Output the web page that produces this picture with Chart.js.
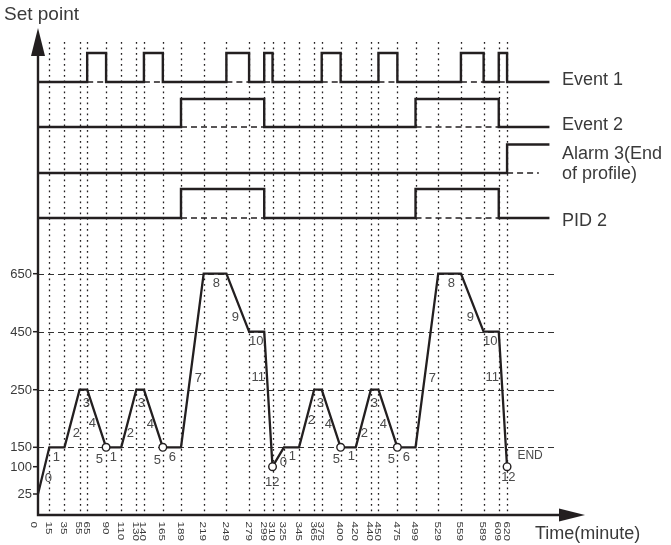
<!DOCTYPE html>
<html>
<head>
<meta charset="utf-8">
<script src="https://cdn.jsdelivr.net/npm/chart.js@4/dist/chart.umd.min.js"></script>
<style>
  html, body { margin: 0; padding: 0; background: #fff; }
  #wrap { width: 671px; height: 545px; position: relative; }
</style>
</head>
<body>
<div id="wrap"><canvas id="profileChart"></canvas></div>
<script>
// ── Data ─────────────────────────────────────────────────────
const xTicks = [0, 15, 35, 55, 65, 90, 110, 130, 140, 165, 189, 219, 249, 279, 299, 310,
  325, 345, 365, 375, 400, 420, 440, 450, 475, 499, 529, 559, 589, 609, 620];
const yTicks = [25, 100, 150, 250, 450, 650];
const dashedLevels = [150, 250, 450, 650];

const profileTime = [0, 15, 35, 55, 65, 90, 110, 130, 140, 165, 189, 219, 249, 279, 299, 310,
  325, 345, 365, 375, 400, 420, 440, 450, 475, 499, 529, 559, 589, 609, 620];
const profileValue = [25, 150, 150, 250, 250, 150, 150, 250, 250, 150, 150, 650, 650, 450, 450, 100,
  150, 150, 250, 250, 150, 150, 250, 250, 150, 150, 650, 650, 450, 450, 100];
const circleTimes = [90, 165, 310, 400, 475, 620];

const event1On = [[65, 90], [140, 165], [249, 279], [299, 310], [375, 400], [450, 475], [559, 589], [609, 620]];
const event2On = [[189, 299], [499, 609]];
const alarm3On = [[620, null]];
const pid2On = [[189, 299], [499, 609]];

const segText = ['0', '1', '2', '3', '4', '5', '1', '2', '3', '4', '5', '6', '7', '8', '9', '10', '11', '12',
  '0', '1', '2', '3', '4', '5', '1', '2', '3', '4', '5', '6', '7', '8', '9', '10', '11', '12', 'END'];

// ── Layout (level units: 0 = time axis, 487 = arrow tip) ─────
const SP_LEVEL = [21, 48.3, 67.7, 125.3, 183.3, 241.3];   // level of each yTicks value
const ROWS = [
  { name: 'Event 1', on: event1On, low: 433, high: 462 },
  { name: 'Event 2', on: event2On, low: 388, high: 416 },
  { name: 'Alarm 3', on: alarm3On, low: 342, high: 370.5 },
  { name: 'PID 2', on: pid2On, low: 297, high: 326 },
];
const LINE_END = 676;
const DASH_END = 686;
const ALARM_DASH_END = 662;
const GRID_TOP = 473;
const SEG_POS = [
  [13.6, 37], [24.2, 58], [50.6, 82], [63.8, 112], [71.8, 92], [81, 56], [99.5, 58], [122, 82],
  [136.6, 112], [148.5, 91], [157.7, 55], [177.5, 58], [212, 137], [235.7, 232], [260.8, 198],
  [288.6, 174], [291.2, 138], [309.7, 33],
  [324.3, 53], [336.2, 59], [361.3, 95], [373.2, 112], [383.7, 91], [394.3, 56], [414.2, 59],
  [431.4, 82], [444.6, 112], [456.5, 91], [467, 56], [486.9, 58], [521.2, 137], [546.3, 232],
  [571.5, 198], [597.9, 174], [600.5, 138], [621.7, 38], [650.4, 59],
];

const INK = '#231f20';
const TEXT = '#3a3a3a';
const FONT = '"Liberation Sans", Arial, sans-serif';

function level(v) {
  for (let i = 1; i < yTicks.length; i++) {
    if (v <= yTicks[i]) {
      const a = yTicks[i - 1], b = yTicks[i];
      return SP_LEVEL[i - 1] + (v - a) / (b - a) * (SP_LEVEL[i] - SP_LEVEL[i - 1]);
    }
  }
  return SP_LEVEL[SP_LEVEL.length - 1];
}

function stepPoints(row) {
  const pts = [{ x: 0, y: row.low }];
  let ended = false;
  row.on.forEach(([a, b]) => {
    pts.push({ x: a, y: row.low }, { x: a, y: row.high });
    if (b == null) { pts.push({ x: LINE_END, y: row.high }); ended = true; return; }
    pts.push({ x: b, y: row.high }, { x: b, y: row.low });
  });
  if (!ended) pts.push({ x: LINE_END, y: row.low });
  return pts;
}

function baselinePoints(row) {
  const pts = [];
  row.on.forEach(([a, b]) => {
    pts.push({ x: a, y: row.low }, { x: b == null ? ALARM_DASH_END : b, y: row.low }, { x: a, y: null });
  });
  return pts;
}

const datasets = [];
ROWS.forEach(row => {
  datasets.push({
    data: baselinePoints(row), borderColor: INK, borderWidth: 1.3, borderDash: [6, 4],
    pointRadius: 0, spanGaps: false,
  });
  datasets.push({
    data: stepPoints(row), borderColor: INK, borderWidth: 2.4, pointRadius: 0,
    borderJoinStyle: 'miter',
  });
});
datasets.push({
  data: profileTime.map((t, i) => ({ x: t, y: level(profileValue[i]) })),
  borderColor: INK, borderWidth: 2.3, borderJoinStyle: 'miter',
  pointRadius: c => circleTimes.includes(profileTime[c.dataIndex]) ? 3.8 : 0,
  pointBackgroundColor: '#fff', pointBorderColor: INK, pointBorderWidth: 1.4,
});

// ── Decorations ──────────────────────────────────────────────
const gridPlugin = {
  id: 'grid',
  beforeDatasetsDraw(chart) {
    const { ctx, scales: { x, y } } = chart;
    ctx.save();
    ctx.strokeStyle = INK;
    ctx.lineWidth = 1.3;
    ctx.setLineDash([1.8, 3.7]);
    xTicks.slice(1).forEach(t => {
      const px = Math.round(x.getPixelForValue(t)) + 0.5;
      ctx.beginPath();
      ctx.moveTo(px, y.getPixelForValue(GRID_TOP));
      ctx.lineTo(px, y.getPixelForValue(0));
      ctx.stroke();
    });
    ctx.strokeStyle = '#333';
    ctx.lineWidth = 1.2;
    ctx.setLineDash([6, 4]);
    dashedLevels.forEach(v => {
      const py = Math.round(y.getPixelForValue(level(v))) + 0.5;
      ctx.beginPath();
      ctx.moveTo(x.getPixelForValue(0), py);
      ctx.lineTo(x.getPixelForValue(DASH_END), py);
      ctx.stroke();
    });
    ctx.restore();
  },
  afterDatasetsDraw(chart) {
    const { ctx, scales: { x, y } } = chart;
    const x0 = x.getPixelForValue(0), y0 = y.getPixelForValue(0);
    const top = y.getPixelForValue(y.max), right = x.getPixelForValue(x.max);
    ctx.save();
    ctx.fillStyle = INK;
    ctx.strokeStyle = INK;
    ctx.lineWidth = 2.4;
    ctx.setLineDash([]);
    // axes with arrow heads
    ctx.beginPath();
    ctx.moveTo(x0, top + 24); ctx.lineTo(x0, y0);
    ctx.lineTo(right - 22, y0);
    ctx.stroke();
    ctx.beginPath();
    ctx.moveTo(x0, top); ctx.lineTo(x0 - 7, top + 28); ctx.lineTo(x0 + 7, top + 28); ctx.closePath();
    ctx.fill();
    ctx.beginPath();
    ctx.moveTo(right, y0); ctx.lineTo(right - 26, y0 - 6.5); ctx.lineTo(right - 26, y0 + 6.5); ctx.closePath();
    ctx.fill();

    // y ticks and labels
    ctx.lineWidth = 1.5;
    ctx.fillStyle = TEXT;
    ctx.font = '13px ' + FONT;
    ctx.textAlign = 'right';
    ctx.textBaseline = 'middle';
    yTicks.forEach(v => {
      const py = y.getPixelForValue(level(v));
      ctx.beginPath(); ctx.moveTo(x0 - 5, py); ctx.lineTo(x0, py); ctx.stroke();
      ctx.fillText(String(v), x0 - 6, py + 0.5);
    });

    // x tick labels, rotated clockwise
    const fs = 10.5;
    ctx.font = fs + 'px ' + FONT;
    ctx.textAlign = 'left';
    ctx.textBaseline = 'alphabetic';
    xTicks.forEach(t => {
      ctx.save();
      ctx.translate(x.getPixelForValue(t) + (t === 0 ? -3.5 : 0), y0 + 6.5);
      ctx.rotate(Math.PI / 2);
      ctx.scale(1.12, 0.92);
      ctx.fillText(String(t), 0, fs * 0.36);
      ctx.restore();
    });

    // segment numbers
    ctx.fillStyle = '#4a4a4a';
    ctx.textAlign = 'center';
    ctx.textBaseline = 'middle';
    segText.forEach((s, i) => {
      const [t, u] = SEG_POS[i];
      ctx.font = (s === 'END' ? '12px ' : '13px ') + FONT;
      ctx.fillText(s, x.getPixelForValue(t), y.getPixelForValue(u));
    });

    // titles and row names
    ctx.fillStyle = TEXT;
    ctx.textAlign = 'left';
    ctx.textBaseline = 'alphabetic';
    ctx.font = '19px ' + FONT;
    ctx.fillText('Set point', 4, 20);
    ctx.font = '18px ' + FONT;
    ctx.fillText('Time(minute)', 535, 539);
    ctx.fillText('Event 1', 562, 85);
    ctx.fillText('Event 2', 562, 130);
    ctx.fillText('Alarm 3(End', 562, 159);
    ctx.fillText('of profile)', 562, 179);
    ctx.fillText('PID 2', 562, 226);
    ctx.restore();
  }
};

new Chart(document.getElementById('profileChart'), {
  type: 'line',
  data: { datasets },
  options: {
    responsive: true,
    maintainAspectRatio: false,
    animation: false,
    layout: { padding: { left: 38, right: 86, top: 28, bottom: 30 } },
    plugins: { legend: { display: false }, tooltip: { enabled: false } },
    elements: { line: { tension: 0 } },
    scales: {
      x: { type: 'linear', min: 0, max: 723, display: false },
      y: { type: 'linear', min: 0, max: 487, display: false }
    }
  },
  plugins: [gridPlugin]
});
</script>
</body>
</html>
